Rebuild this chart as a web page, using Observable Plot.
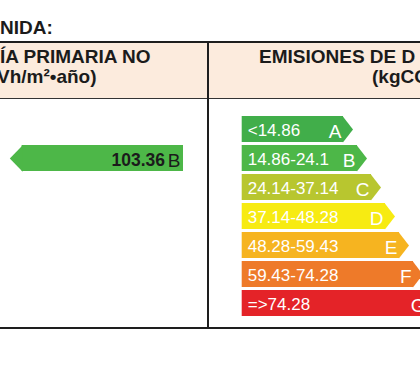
<!DOCTYPE html>
<html><head><meta charset="utf-8">
<script src="https://cdn.jsdelivr.net/npm/d3@7"></script>
<script src="https://cdn.jsdelivr.net/npm/@observablehq/plot@0.6"></script>
<style>
html,body{margin:0;padding:0;background:#fff;}
#wrap{position:relative;width:420px;height:367px;overflow:hidden;font-family:"Liberation Sans",Arial,sans-serif;}
.abs{position:absolute;white-space:nowrap;}
.hdr{font-weight:bold;font-size:19px;line-height:19px;color:#1b1b1b;}
#chart{position:absolute;left:0;top:0;}
</style></head><body>
<div id="wrap">
  <div class="abs hdr" style="left:0;top:18px;">NIDA:</div>
  <div class="abs" style="left:0;top:41px;width:420px;height:57.5px;background:#fcebdd;border-top:2px solid #1e1e1e;border-bottom:1.5px solid #333;box-sizing:border-box;"></div>
  <div class="abs hdr" style="left:0;top:47px;">ÍA PRIMARIA NO</div>
  <div class="abs hdr" style="left:-3px;top:67px;">Vh/m²•año)</div>
  <div class="abs hdr" style="left:259px;top:47px;">EMISIONES DE D</div>
  <div class="abs hdr" style="left:372px;top:67px;">(kgCO</div>
  <div class="abs" style="left:207px;top:41px;width:1.8px;height:288px;background:#1e1e1e;"></div>
  <div class="abs" style="left:0;top:327px;width:420px;height:2px;background:#1e1e1e;"></div>
  <div id="chart"></div>
</div>
<script>
// ---- data ----
const classes = ["A", "B", "C", "D", "E", "F", "G"];
const ranges = ["<14.86", "14.86-24.1", "24.14-37.14", "37.14-48.28", "48.28-59.43", "59.43-74.28", "=>74.28"];
const primaryValues = [103.36];
const primaryClasses = ["B"];

// ---- layout constants (pixels) ----
const BAR_X0 = 241.7, END0 = 343, STEP = 14, TIP = 9.5;
const LEFT_TIP = 12.3, LEFT_X0 = 21.6, LEFT_X1 = 183;

const rows = classes.map((c, i) => ({cls: c, range: ranges[i], rank: i}));
const primary = primaryValues.map((v, i) => ({value: v, cls: primaryClasses[i]}));
const bodyEnd = d => END0 + STEP * d.rank;

const tipRight = {draw(ctx) { ctx.moveTo(-0.6, -13); ctx.lineTo(TIP, 0); ctx.lineTo(-0.6, 13); ctx.closePath(); }};
const tipLeft = {draw(ctx) { ctx.moveTo(0.6, -13.3); ctx.lineTo(-LEFT_TIP, 0); ctx.lineTo(0.6, 13.3); ctx.closePath(); }};

const chart = Plot.plot({
  width: 420, height: 367,
  marginTop: 114.3, marginBottom: 367 - 316.8, marginLeft: 0, marginRight: 0,
  style: {background: "transparent", overflow: "visible", fontFamily: "'Liberation Sans', Arial, sans-serif"},
  x: {domain: [0, 420], range: [0, 420], axis: null},
  y: {type: "band", domain: classes, paddingInner: 0.117, paddingOuter: 0, axis: null},
  color: {domain: classes, range: ["#41ae4a", "#4db748", "#b8c62f", "#f7eb12", "#f6b420", "#ee7a29", "#e42328"]},
  marks: [
    Plot.barX(rows, {x1: BAR_X0, x2: bodyEnd, y: "cls", fill: "cls"}),
    Plot.dot(rows, {x: bodyEnd, y: "cls", fill: "cls", stroke: "none", r: 1, symbol: tipRight}),
    Plot.text(rows, {x: BAR_X0, y: "cls", text: "range", dx: 5.5, dy: 1, textAnchor: "start", fill: "#fff", fontSize: 17}),
    Plot.text(rows, {x: bodyEnd, y: "cls", text: "cls", dx: -2, dy: 2, textAnchor: "end", fill: "#fff", fontSize: 19}),
    Plot.barX(primary, {x1: LEFT_X0, x2: LEFT_X1, y: "cls", fill: "cls"}),
    Plot.dot(primary, {x: LEFT_X0, y: "cls", fill: "cls", stroke: "none", r: 1, symbol: tipLeft}),
    Plot.text(primary, {x: LEFT_X1, y: "cls", text: d => d.value.toFixed(2), dx: -18.5, dy: 2, textAnchor: "end", fontWeight: "bold", fontSize: 17.5, fill: "#1b1b1b"}),
    Plot.text(primary, {x: LEFT_X1, y: "cls", text: "cls", dx: -3, dy: 2, textAnchor: "end", fontSize: 19, fill: "#1b1b1b"})
  ]
});
document.getElementById("chart").appendChild(chart);
</script>
</body></html>
